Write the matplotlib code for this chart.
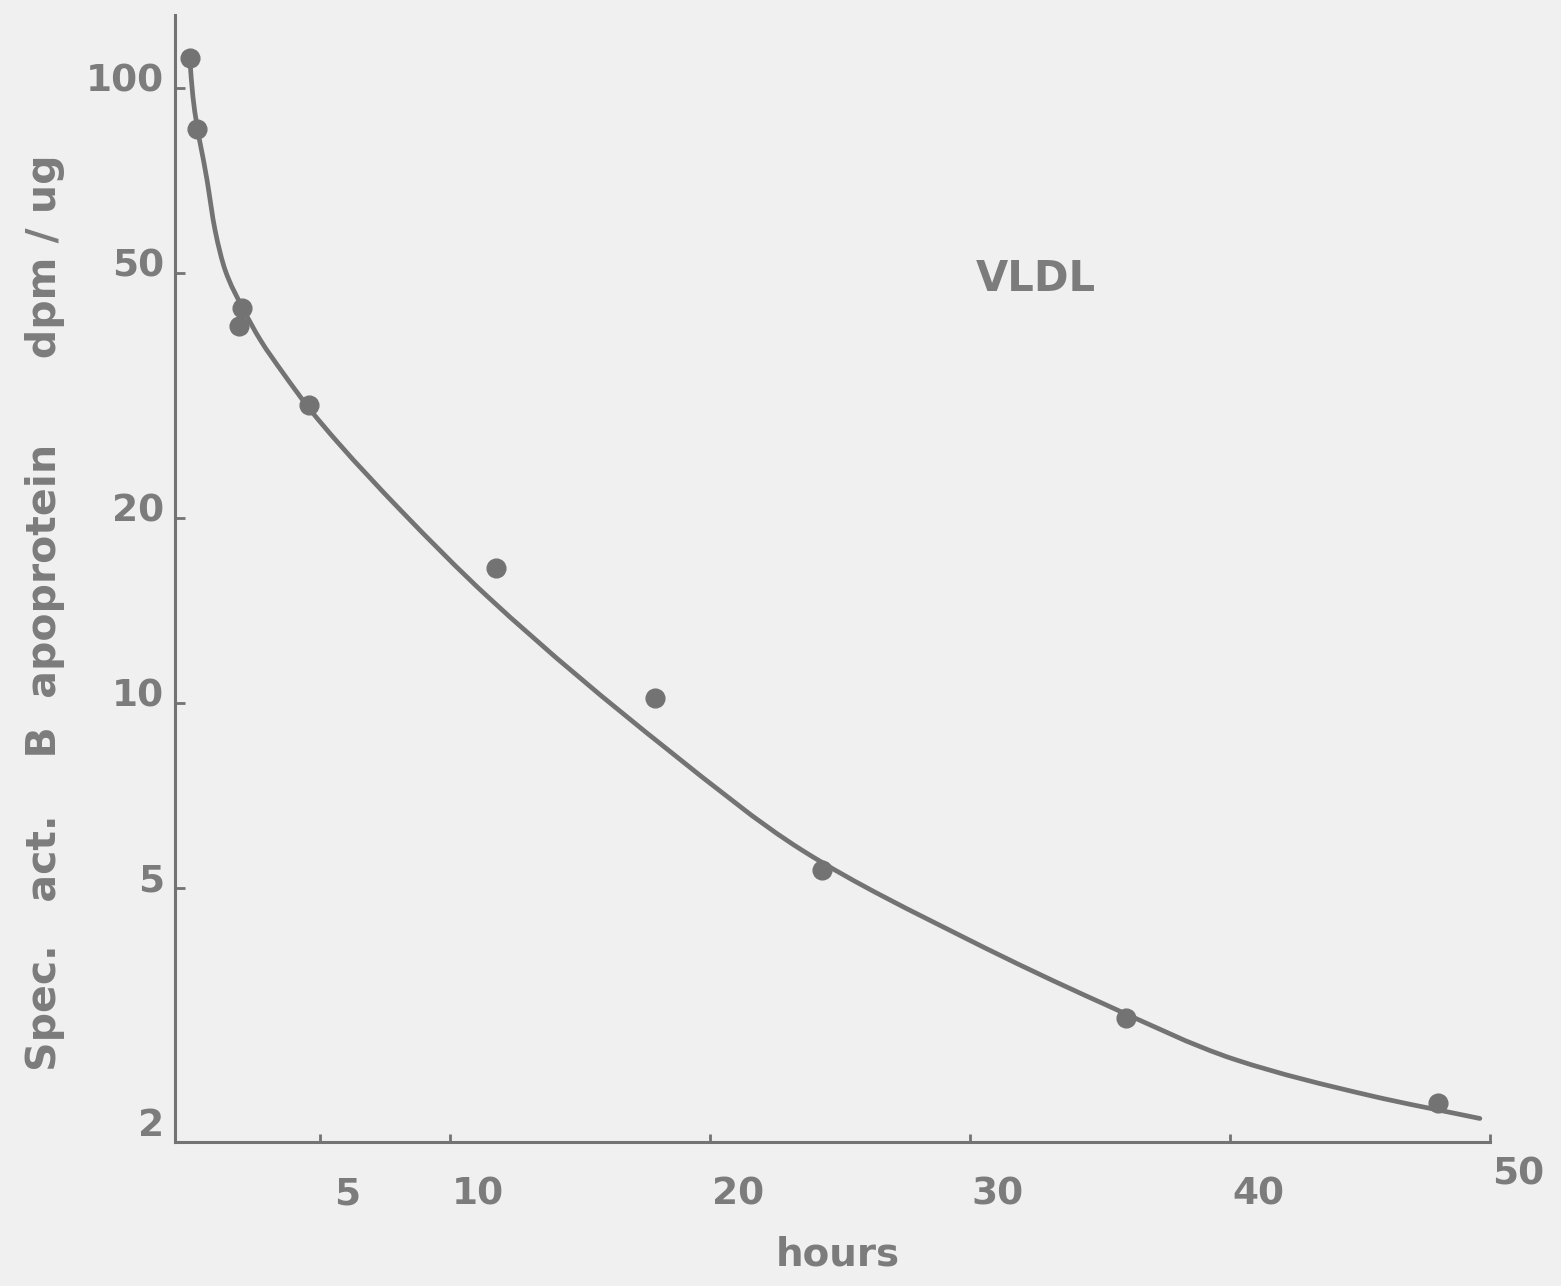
import numpy as np
import matplotlib
matplotlib.use("Agg")
import matplotlib.pyplot as plt
import matplotlib.transforms as mtransforms
from matplotlib.path import Path
from matplotlib.patches import PathPatch
from matplotlib.ticker import NullLocator, FixedLocator

# Measured specific activity of VLDL apoprotein B (dpm/ug) against time (hours)
hours_measured = [0.0, 0.3, 1.9, 2.0, 4.6, 11.8, 17.9, 24.3, 36.0, 48.0]
spec_activity = [112, 86, 41, 44, 30.5, 16.6, 10.2, 5.35, 3.07, 2.24]

# Hand-fitted decay curve
fit_hours = [0.0, 0.13, 0.67, 0.98, 1.37, 2.02, 2.72, 3.60, 4.64, 5.68,
             8.11, 11.46, 18.4, 23.53, 29.96, 35.09, 40.21, 45.37, 49.61]
fit_activity = [113, 96.8, 71.0, 58.8, 50.6, 44.1, 38.97, 34.4, 30.0, 26.6,
                20.6, 14.9, 8.39, 5.77, 4.12, 3.25, 2.63, 2.30, 2.11]

x_ticks = [5, 10, 20, 30, 40, 50]
x_tick_labels = ["5", "10", "20", "30", "40", "50"]
y_ticks = [2, 5, 10, 20, 50, 100]
y_tick_labels = ["2", "5", "10", "20", "50", "100"]

bg = "#eff0ef"
ink = "#737373"
text_ink = "#7c7c7c"

plt.rcParams["font.family"] = ["DejaVu Sans"]
plt.rcParams["font.weight"] = "bold"


def smooth_path(xs, ys):
    """Shape-preserving cubic Bezier path through the given points, built in
    x / log10(y) space so the stroke is smooth on a log axis."""
    x = np.asarray(xs, float)
    y = np.log10(np.asarray(ys, float))
    h = np.diff(x)
    d = np.diff(y) / h
    m = np.empty_like(x)
    m[0], m[-1] = d[0], d[-1]
    for i in range(1, len(x) - 1):
        if d[i - 1] * d[i] <= 0:
            m[i] = 0.0
        else:
            w1 = 2 * h[i] + h[i - 1]
            w2 = h[i] + 2 * h[i - 1]
            m[i] = (w1 + w2) / (w1 / d[i - 1] + w2 / d[i])
    verts = [(x[0], y[0])]
    codes = [Path.MOVETO]
    for i in range(len(x) - 1):
        verts += [(x[i] + h[i] / 3, y[i] + m[i] * h[i] / 3),
                  (x[i + 1] - h[i] / 3, y[i + 1] - m[i + 1] * h[i] / 3),
                  (x[i + 1], y[i + 1])]
        codes += [Path.CURVE4] * 3
    return Path([(vx, 10 ** vy) for vx, vy in verts], codes)


W, H = 1561, 1286
fig = plt.figure(figsize=(W / 100, H / 100), dpi=100, facecolor=bg)
ax = fig.add_axes([175 / W, 1 - 1142 / H, (1490 - 175) / W, (1142 - 15) / H])
ax.set_facecolor(bg)

ax.set_yscale("log")
ax.set_xlim(-0.56, 50)
ax.set_ylim(1.932, 131.6)

ax.add_patch(PathPatch(smooth_path(fit_hours, fit_activity), fill=False,
                       edgecolor=ink, lw=3.4, capstyle="round", zorder=2))
ax.plot(hours_measured, spec_activity, "o", color=ink, ms=13.5, mec=ink,
        zorder=3)

for side in ("top", "right"):
    ax.spines[side].set_visible(False)
for side in ("left", "bottom"):
    ax.spines[side].set_color(ink)
    ax.spines[side].set_linewidth(2.2)

ax.yaxis.set_major_locator(FixedLocator(y_ticks))
ax.yaxis.set_minor_locator(NullLocator())
ax.set_yticklabels(y_tick_labels)
ax.set_xticks(x_ticks)
ax.set_xticklabels(x_tick_labels)

ax.tick_params(axis="both", direction="in", colors=ink, width=2.0,
               labelcolor=text_ink, labelsize=27)
ax.tick_params(axis="y", length=7, pad=8)
ax.tick_params(axis="x", length=6, pad=25)

# the lowest y tick sits on the x axis
ax.yaxis.get_major_ticks()[0].tick1line.set_visible(False)

fig.canvas.draw()
for lab in ax.get_yticklabels():
    lab.set_fontweight("bold")
    lab.set_transform(lab.get_transform() + mtransforms.ScaledTranslation(
        0, 11 / 100, fig.dpi_scale_trans))
for lab in ax.get_xticklabels():
    lab.set_fontweight("bold")
    dy = 20 / 100 if lab.get_text() == "50" else 0
    lab.set_transform(lab.get_transform() + mtransforms.ScaledTranslation(
        28 / 100, dy, fig.dpi_scale_trans))

fig.text(838 / W, 1 - 1255 / H, "hours", ha="center", va="center",
         fontsize=28, fontweight="bold", color=text_ink)
fig.text(45 / W, 1 - 613 / H, "Spec.   act.    B  apoprotein      dpm / ug",
         rotation=90, ha="center", va="center", fontsize=29.5,
         fontweight="bold", color=text_ink)
ax.text(0.655, 0.766, "VLDL", transform=ax.transAxes, ha="center",
        va="center", fontsize=30, fontweight="bold", color=text_ink)

fig.savefig("out.png", dpi=100, facecolor=bg)
